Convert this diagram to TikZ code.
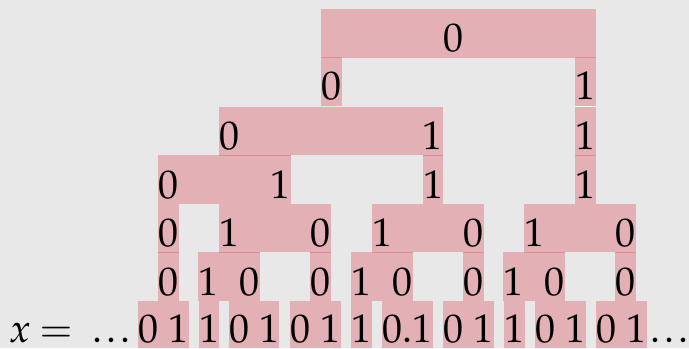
\documentclass[tikz,border=0pt]{standalone}
\usepackage[T1]{fontenc}
\usepackage{mathpazo}
\definecolor{bg}{RGB}{232,232,232}
\definecolor{boxpink}{RGB}{227,176,181}
\definecolor{seam}{RGB}{222,142,152}
\definecolor{gapwhite}{RGB}{246,246,246}
\newcommand{\mydots}{.\kern2pt.\kern2pt.}
\begin{document}
\begin{tikzpicture}[x=0.5pt,y=-0.5pt,
  dig/.style={anchor=base,inner sep=0pt,font=\fontsize{20}{24}\selectfont},
  pbox/.style={fill=boxpink},
  seamline/.style={draw=seam,line width=0.5pt}]
\fill[bg] (0,0) rectangle (689,348);
\useasboundingbox (0,0) rectangle (689,348);
% row 0
\fill[pbox] (321,9) rectangle (596,57.5);
% row 1
\fill[pbox] (321,57.5) rectangle (342,105.7);
\fill[pbox] (575,57.5) rectangle (596,105.7);
\fill[gapwhite] (575,105.7) rectangle (596,107);
% row 2
\fill[pbox] (219,107) rectangle (443,155.3);
\fill[pbox] (575,107) rectangle (596,155.3);
% row 3
\fill[pbox] (158,155.3) rectangle (291,204);
\fill[pbox] (423,155.3) rectangle (443,204);
\fill[pbox] (575,155.3) rectangle (596,204);
% row 4
\fill[pbox] (158,204) rectangle (179,252.3);
\fill[pbox] (219,204) rectangle (331,252.3);
\fill[pbox] (372,204) rectangle (484,252.3);
\fill[pbox] (524,204) rectangle (636,252.3);
% row 5
\fill[pbox] (158,252.3) rectangle (179,301);
\fill[pbox] (198,252.3) rectangle (260,301);
\fill[pbox] (310,252.3) rectangle (331,301);
\fill[pbox] (351,252.3) rectangle (413,301);
\fill[pbox] (463,252.3) rectangle (484,301);
\fill[pbox] (503,252.3) rectangle (565,301);
\fill[pbox] (615,252.3) rectangle (636,301);
% row 6
\fill[pbox] (138,301) rectangle (189,348);
\fill[pbox] (199,301) rectangle (219,348);
\fill[pbox] (229,301) rectangle (279,348);
\fill[pbox] (290,301) rectangle (341,348);
\fill[pbox] (351,301) rectangle (372,348);
\fill[pbox] (382,301) rectangle (433,348);
\fill[pbox] (443,301) rectangle (494,348);
\fill[pbox] (504,301) rectangle (525,348);
\fill[pbox] (535,301) rectangle (586,348);
\fill[pbox] (596,301) rectangle (647,348);
% seams
\draw[seamline] (321,57.5) -- (342,57.5) (575,57.5) -- (596,57.5);
\draw[seamline] (219,155.3) -- (291,155.3) (423,155.3) -- (443,155.3) (575,155.3) -- (596,155.3);
\draw[seamline] (158,252.3) -- (179,252.3) (219,252.3) -- (260,252.3) (310,252.3) -- (331,252.3)
  (372,252.3) -- (413,252.3) (463,252.3) -- (484,252.3) (524,252.3) -- (565,252.3) (615,252.3) -- (636,252.3);
% digits row 0
\node[dig] (a0) at (453,51.5) {0};
% row 1
\node[dig] (b0) at (331.5,99.7) {0};
\node[dig] (b1) at (585.5,99.7) {1};
% row 2
\node[dig] (c0) at (229.5,149.3) {0};
\node[dig] (c1) at (432.5,149.3) {1};
\node[dig] (c2) at (585.5,149.3) {1};
% row 3
\node[dig] (d0) at (168.5,198) {0};
\node[dig] (d1) at (280.5,198) {1};
\node[dig] (d2) at (433,198) {1};
\node[dig] (d3) at (585.5,198) {1};
% row 4
\node[dig] (e0) at (168.5,246.3) {0};
\node[dig] (e1) at (229.5,246.3) {1};
\node[dig] (e2) at (320.5,246.3) {0};
\node[dig] (e3) at (382.5,246.3) {1};
\node[dig] (e4) at (473.5,246.3) {0};
\node[dig] (e5) at (534.5,246.3) {1};
\node[dig] (e6) at (625.5,246.3) {0};
% row 5
\node[dig] (f0) at (168.5,295) {0};
\node[dig] (f1) at (208.5,295) {1};
\node[dig] (f2) at (249.5,295) {0};
\node[dig] (f3) at (320.5,295) {0};
\node[dig] (f4) at (361.5,295) {1};
\node[dig] (f5) at (402.5,295) {0};
\node[dig] (f6) at (473.5,295) {0};
\node[dig] (f7) at (513.5,295) {1};
\node[dig] (f8) at (554.5,295) {0};
\node[dig] (f9) at (625.5,295) {0};
% row 6
\node[dig] (x) at (20.5,342) {$x$};
\node[dig] (eq) at (56,342) {$=$};
\node[dig] (ldots) at (111.5,342) {\mydots};
\node[dig] (g0) at (148.5,342) {0};
\node[dig] (g1) at (178.5,342) {1};
\node[dig] (g2) at (209,342) {1};
\node[dig] (g3) at (239.5,342) {0};
\node[dig] (g4) at (269.5,342) {1};
\node[dig] (g5) at (300.5,342) {0};
\node[dig] (g6) at (330.5,342) {1};
\node[dig] (g7) at (361.5,342) {1};
\node[dig] (g8) at (407.5,342) {0.1};
\node[dig] (g9) at (453.5,342) {0};
\node[dig] (g10) at (483.5,342) {1};
\node[dig] (g11) at (514.5,342) {1};
\node[dig] (g12) at (545.5,342) {0};
\node[dig] (g13) at (575.5,342) {1};
\node[dig] (g14) at (606.5,342) {0};
\node[dig] (g15) at (636.5,342) {1};
\node[dig] (rdots) at (669,342) {\mydots};
\end{tikzpicture}
\end{document}
